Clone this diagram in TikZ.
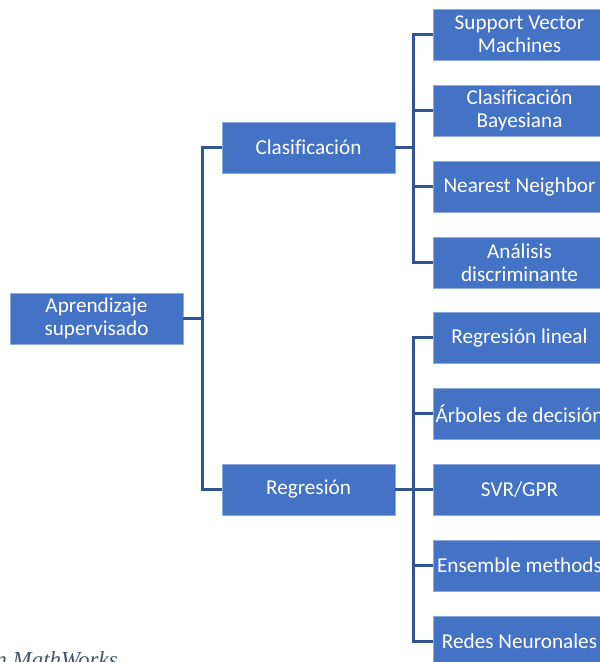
\documentclass[tikz,border=0pt]{standalone}
\usepackage{fontspec}
\setmainfont[Ligatures=CommonOff]{Carlito}
\newfontfamily\capfont{Liberation Serif}
\definecolor{boxfill}{HTML}{4472C4}
\definecolor{boxline}{HTML}{8FAADC}
\definecolor{conn}{HTML}{2F5597}
\definecolor{captxt}{HTML}{44546A}
\begin{document}
\begin{tikzpicture}[x=1pt,y=-1pt,
  box/.style={draw=boxline,line width=0.8pt,fill=boxfill,text=white,
    minimum width=173pt,minimum height=51pt,inner sep=0pt,align=center,
    font=\fontsize{21.2}{23}\selectfont},
  link/.style={draw=conn,line width=2.4pt}]
\useasboundingbox (0,0) rectangle (600,662);
\clip (0,0) rectangle (600,662);
\node[box] (ap) at (96.5,318.5) {Aprendizaje\\supervisado};
\node[box] (cl) at (308.5,147.5) {Clasificación};
\node[box] (re) at (308.5,489.5) {Regresión};
\node[box] (c1) at (519.5,34.5) {Support Vector\\Machines};
\node[box] (c2) at (519.5,110.5) {Clasificación\\Bayesiana};
\node[box] (c3) at (519.5,186.5) {Nearest Neighbor};
\node[box] (c4) at (519.5,262.5) {Análisis\\discriminante};
\node[box] (r1) at (519.5,337.5) {Regresión lineal};
\node[box] (r2) at (519.5,413.5) {Árboles de decisión};
\node[box] (r3) at (519.5,489.5) {SVR/GPR};
\node[box] (r4) at (519.5,565.5) {Ensemble methods};
\node[box] (r5) at (519.5,641.5) {Redes Neuronales};
\draw[link] (ap.east) -- ++(19,0) |- (cl.west);
\draw[link] (ap.east) -- ++(19,0) |- (re.west);
\foreach \n in {c1,c2,c3,c4}{\draw[link] (cl.east) -- ++(18,0) |- (\n.west);}
\foreach \n in {r1,r2,r3,r4,r5}{\draw[link] (re.east) -- ++(18,0) |- (\n.west);}
\node[anchor=base east,text=captxt,inner sep=0pt,font=\capfont\itshape\fontsize{23}{26}\selectfont] (src) at (118,667) {n MathWorks};
\end{tikzpicture}
\end{document}
